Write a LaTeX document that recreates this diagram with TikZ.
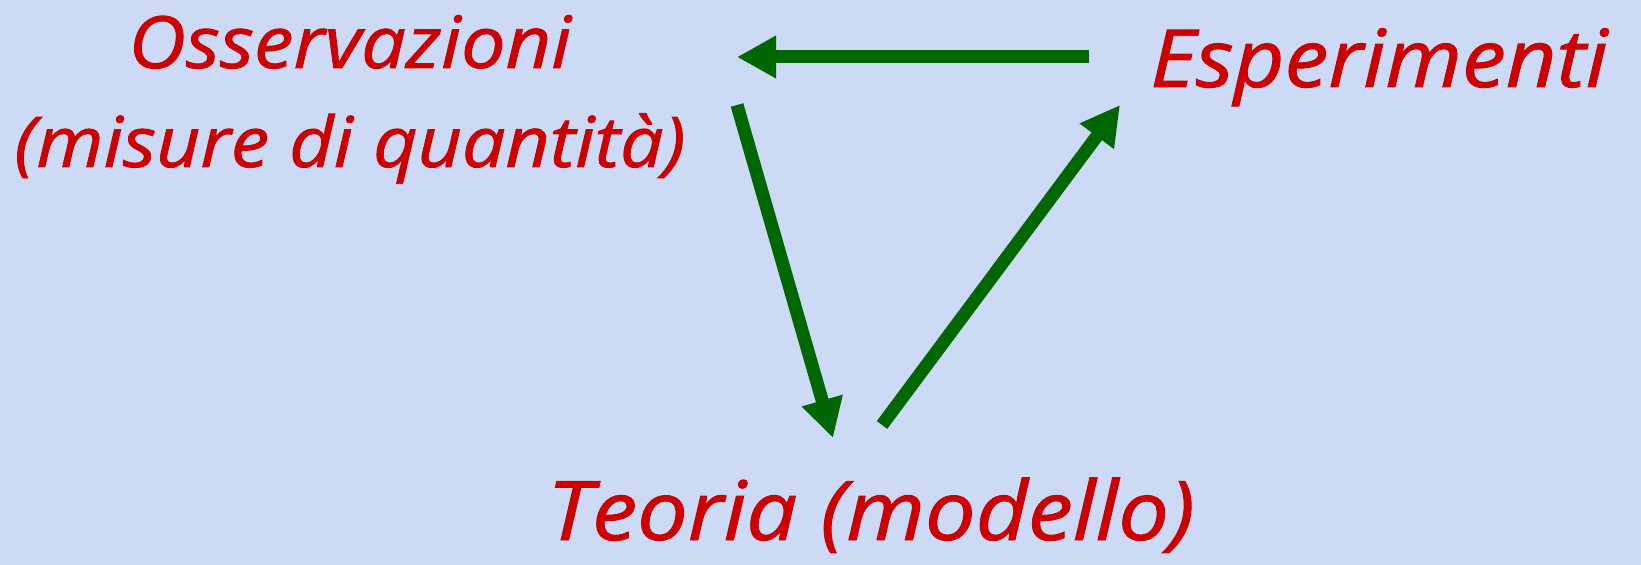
\documentclass[tikz,border=0pt]{standalone}
\usepackage{fontspec}
\setmainfont{Open Sans}[FakeStretch=1.1,FakeBold=1.2]
\usetikzlibrary{arrows.meta}

\definecolor{bgblue}{RGB}{204,218,245}
\definecolor{textred}{RGB}{204,0,0}
\definecolor{arrowgreen}{RGB}{0,102,0}

\newcommand*{\xmax}{1641}
\newcommand*{\ymax}{565}

\begin{document}
\begin{tikzpicture}
[
	label/.style={text=textred,font=\itshape\fontsize{40}{49.5}\selectfont,inner sep=0pt,align=center},
	flow/.style={arrowgreen,line width=6.5pt,-{Triangle[length=19.5pt,width=20pt]}},
	x=0.5pt,
	y=-0.5pt
]

	% background
	\fill[bgblue] (0,0) rectangle (\xmax,\ymax);
	\useasboundingbox (0,0) rectangle (\xmax,\ymax);

	% labels
	\node[label,anchor=base] at (350,167) (oss)
	  {{\fontsize{36}{49.5}\selectfont Osservazioni}\\{\fontsize{35}{49.5}\selectfont (misure di quantità)}};
	\node[label,anchor=base] at (1379,87) (esp) {Esperimenti};
	\node[label,anchor=base,font=\itshape\fontsize{41}{49.5}\selectfont] at (871,540) (teo) {Teoria (modello)};

	% arrow ends
	\coordinate (esp-out) at (1089,57);
	\coordinate (oss-in) at (737,57);
	\coordinate (oss-out) at (737,105);
	\coordinate (teo-in) at (833,438);
	\coordinate (teo-out) at (882,425);
	\coordinate (esp-in) at (1120,105);

	% cycle
	\draw[flow] (esp-out) -- (oss-in);
	\draw[flow] (oss-out) -- (teo-in);
	\draw[flow] (teo-out) -- (esp-in);

\end{tikzpicture}
\end{document}
